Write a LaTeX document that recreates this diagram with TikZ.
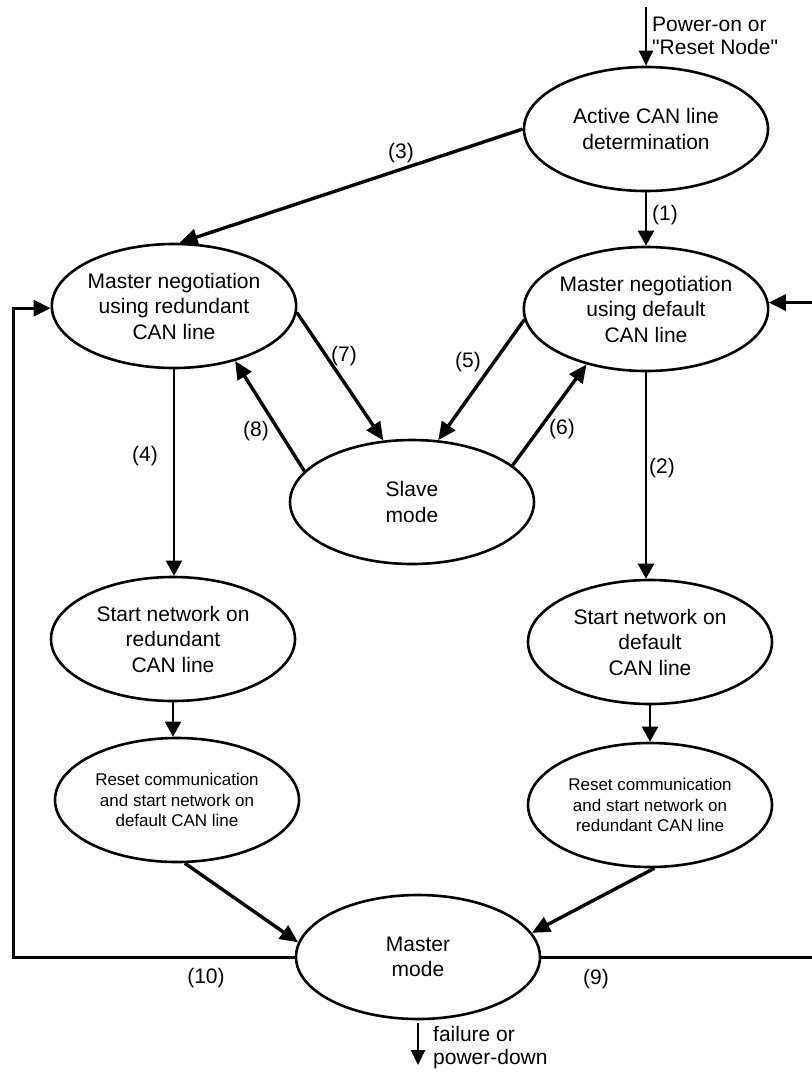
\documentclass[tikz,border=0pt]{standalone}
\usepackage{fontspec}
\setmainfont{Liberation Sans}[Ligatures=TeXOff]
\usetikzlibrary{arrows.meta,shapes.geometric}
\begin{document}
\begin{tikzpicture}[x=1pt,y=-1pt,
  state/.style={draw, ellipse, line width=2.6pt, minimum width=244pt,
    minimum height=124pt, inner sep=0pt, outer sep=1.3pt, align=center,
    font=\fontsize{21}{25.5}\selectfont},
  smallstate/.style={state, font=\fontsize{17}{20.5}\selectfont},
  lbl/.style={font=\fontsize{21}{23}\selectfont, inner sep=0pt},
  vert/.style={line width=2.4pt, -{Triangle[length=15pt,width=16pt]}},
  diag/.style={line width=3.4pt, -{Triangle[length=18pt,width=16pt]}},
  feedback/.style={line width=3pt, -{Triangle[length=17pt,width=16pt]}},
  ioarrow/.style={line width=2.2pt, -{Triangle[length=15pt,width=14pt]}}]

\fill[white] (0,0) rectangle (811,1073);
\useasboundingbox (0,0) rectangle (811,1073);

% states
\node[state] (act) at (646,129) {Active CAN line\\determination};
\node[state] (mnr) at (174,306) {Master negotiation\\using redundant\\CAN line};
\node[state] (mnd) at (646,309) {Master negotiation\\using default\\CAN line};
\node[state] (slave) at (412,502) {Slave\\mode};
\node[state] (snr) at (173,639) {Start network on\\redundant\\CAN line};
\node[state] (snd) at (650,642) {Start network on\\default\\CAN line};
\node[smallstate] (rcl) at (177,800) {Reset communication\\and start network on\\default CAN line};
\node[smallstate] (rcr) at (650,805) {Reset communication\\and start network on\\redundant CAN line};
\node[state] (mm) at (418,957) {Master\\mode};

% free ends and return-line corners
\coordinate (pwr) at (646,7);
\coordinate (lft) at (13,0);
\coordinate (rgt) at (813,0);
\coordinate (down) at (418,1065);

% transitions
\draw[ioarrow] (pwr) -- (act.north);
\draw[vert] (act.south) -- (mnd.north);
\draw[diag] (act.west) -- (mnr.85);
\draw[vert] (mnr.south) -- (mnr.south |- snr.north);
\draw[vert] (mnd.south) -- (mnd.south |- snd.north);
\draw[diag] (mnr.-3) -- (slave.115);
\draw[diag] (slave.164) -- (mnr.-42);
\draw[diag] (mnd.185) -- (slave.67);
\draw[diag] (slave.20) -- (mnd.223);
\draw[vert] (snr.south) -- (snr.south |- rcl.north);
\draw[vert] (snd.south) -- (snd.south |- rcr.north);
\draw[diag] (rcl.-83) -- (mm.173);
\draw[diag] (rcr.-86) -- (mm.12);
\draw[feedback] (mm.west) -| (mnr.181 -| lft) -- (mnr.181);
\draw[feedback] (mm.east) -| (mnd.3 -| rgt) -- (mnd.3);
\draw[ioarrow, shorten <=3pt] (mm.south) -- (down);

% transition labels
\node[lbl] (l1) at (665,215) {(1)};
\node[lbl] (l2) at (662,468) {(2)};
\node[lbl] (l3) at (401,153) {(3)};
\node[lbl] (l4) at (145,456) {(4)};
\node[lbl] (l5) at (468,362) {(5)};
\node[lbl] (l6) at (562,429) {(6)};
\node[lbl] (l7) at (344,356) {(7)};
\node[lbl] (l8) at (256,431) {(8)};
\node[lbl] (l9) at (596,979) {(9)};
\node[lbl] (l10) at (206,978) {(10)};
\node[lbl, anchor=west, align=left] (pwrtxt) at (652,36) {Power-on or\\"Reset Node"};
\node[lbl, anchor=west, align=left] (failtxt) at (433,1048) {failure or\\power-down};
\end{tikzpicture}
\end{document}
